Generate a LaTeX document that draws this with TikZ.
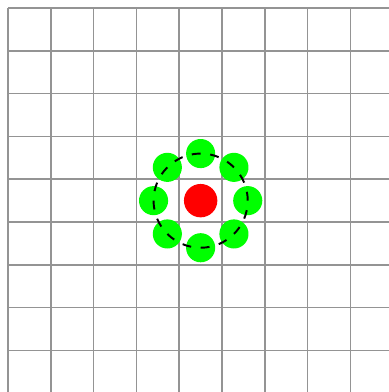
\documentclass[tikz,border=0pt]{standalone}
\usetikzlibrary{calc}
\begin{document}
\begin{tikzpicture}[
  gridline/.style={draw=black!42, line width=1pt},
  center/.style={circle, fill=red, inner sep=0pt, minimum size=0.78cm},
  sat/.style={circle, fill=green, inner sep=0pt, minimum size=0.68cm},
  orbit/.style={draw=black, line width=1.3pt, dash pattern=on 5.9pt off 6.39pt}
]
\useasboundingbox (-0.187,0.187) rectangle (8.90,-8.97);
\draw[gridline] (0,0) grid (9.2,-9.2);
\node[center] (c) at (4.5,-4.5) {};
\foreach \i in {0,...,7} {
  \node[sat] (s\i) at ($(c)+(90-45*\i:1.1)$) {};
}
\draw[orbit] (c.center) circle (1.1cm);
\end{tikzpicture}
\end{document}
